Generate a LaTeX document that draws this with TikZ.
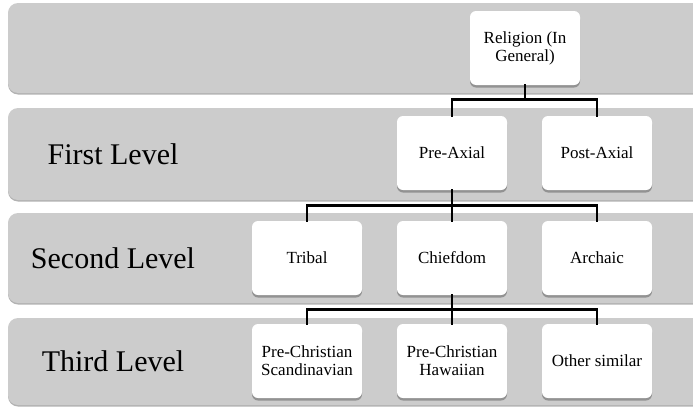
\documentclass[tikz,border=0pt]{standalone}
\usepackage{fontspec}
\setmainfont{Liberation Serif}
\usetikzlibrary{positioning, shadows}

\begin{document}
\begin{tikzpicture}[x=1pt, y=-1pt,
		band/.style={fill=gray!40, rounded corners=10pt, drop shadow={shadow xshift=0pt, shadow yshift=-1.5pt, opacity=0.3, fill=black}},
		cat/.style={fill=white, rounded corners=6pt, minimum width=110pt, minimum height=74pt, align=center, inner sep=2pt, font=\fontsize{17}{18}\selectfont, drop shadow={shadow xshift=0pt, shadow yshift=-2.5pt, opacity=0.45, fill=black!70}},
		lvl/.style={font=\fontsize{30}{32}\selectfont},
		wire/.style={line width=2.8pt, line cap=rect}]
			\useasboundingbox (0,0) rectangle (693,407);
			\clip (0,0) rectangle (693,407);
			% Bands:
			\path[band] (8,3) rectangle (730,93);
			\path[band] (8,108) rectangle (730,200);
			\path[band] (8,213) rectangle (730,303);
			\path[band] (8,318) rectangle (730,405);
			\node[lvl](L1) at (113,154){First Level};
			\node[lvl](L2) at (113,258){Second Level};
			\node[lvl](L3) at (113,361){Third Level};
			% Nodes:
			\node[cat](rel) at (525,48){Religion (In\\General)};
			\node[cat](pre) at (452,153){Pre-Axial};
			\node[cat](post) at (597,153){Post-Axial};
			\node[cat](tribal) at (307,258){Tribal};
			\node[cat](chief) at (452,258){Chiefdom};
			\node[cat](archaic) at (597,258){Archaic};
			\node[cat](scand) at (307,361){Pre-Christian\\Scandinavian};
			\node[cat](hawaii) at (452,361){Pre-Christian\\Hawaiian};
			\node[cat](other) at (597,361){Other similar};
			% Wires:
			\draw[wire] (rel.south) -- ++(0,14) -| (pre.north);
			\draw[wire] (rel.south) -- ++(0,14) -| (post.north);
			\draw[wire] (pre.south) -- ++(0,15) -| (tribal.north);
			\draw[wire] (pre.south) -- (chief.north);
			\draw[wire] (pre.south) -- ++(0,15) -| (archaic.north);
			\draw[wire] (chief.south) -- ++(0,14) -| (scand.north);
			\draw[wire] (chief.south) -- (hawaii.north);
			\draw[wire] (chief.south) -- ++(0,14) -| (other.north);
		\end{tikzpicture}
\end{document}
